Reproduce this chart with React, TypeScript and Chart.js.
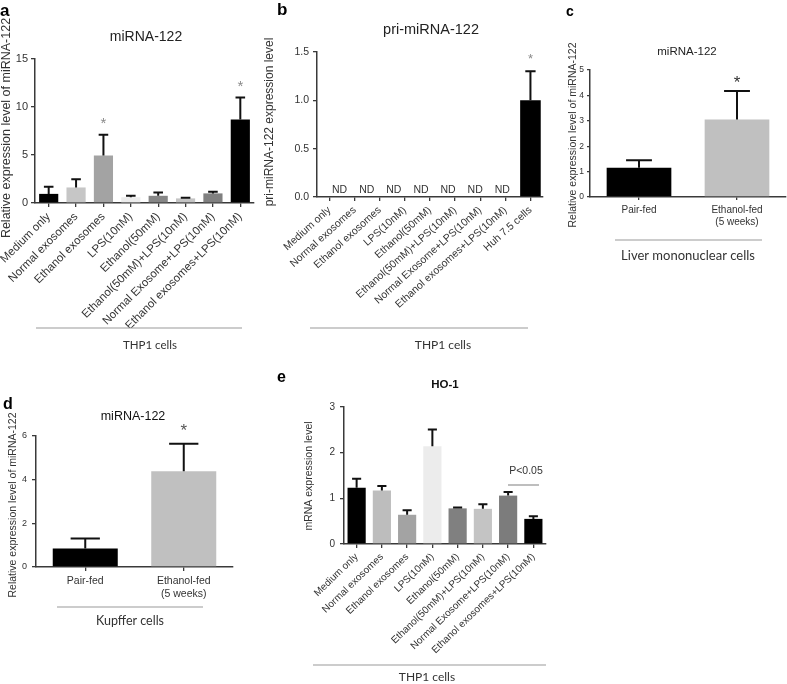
import React, { useEffect, useRef } from "react";
import { Chart, registerables } from "chart.js";
Chart.register(...registerables);

const W = 787;
const H = 684;
const SANS = "'Liberation Sans', Arial, sans-serif";
const SOFT = "Lato, 'Open Sans', sans-serif";
const AXIS = "#3a3a3a";
const TXT = "#333333";

// ---------- Panel a : miRNA-122, THP1 cells ----------
const catsA = [
  "Medium only",
  "Normal exosomes",
  "Ethanol exosomes",
  "LPS(10nM)",
  "Ethanol(50mM)",
  "Ethanol(50mM)+LPS(10nM)",
  "Normal Exosome+LPS(10nM)",
  "Ethanol exosomes+LPS(10nM)",
];
const valsA = [0.95, 1.62, 4.95, 0.6, 0.75, 0.48, 1.0, 8.7];
const errA = [0.75, 0.85, 2.15, 0.16, 0.35, 0.07, 0.18, 2.3];
const colorsA = ["#000000", "#c6c6c6", "#a3a3a3", "#ececec", "#868686", "#c4c4c4", "#808080", "#000000"];
const starsA = [2, 7];
const yTicksA = [0, 5, 10, 15];

// ---------- Panel b : pri-miRNA-122 ----------
const catsB = [...catsA, "Huh 7.5 cells"];
const valsB = [0, 0, 0, 0, 0, 0, 0, 0, 1.0];
const errB = [null, null, null, null, null, null, null, null, 0.3];
const colorsB = ["#000000", "#000000", "#000000", "#000000", "#000000", "#000000", "#000000", "#000000", "#000000"];
const ndLabelsB = ["ND", "ND", "ND", "ND", "ND", "ND", "ND"];
const starsB = [8];
const yTicksB = [0, 0.5, 1.0, 1.5];

// ---------- Panel c : Liver mononuclear cells ----------
const catsC = ["Pair-fed", ["Ethanol-fed", "(5 weeks)"]];
const valsC = [1.15, 3.05];
const errC = [0.3, 1.12];
const colorsC = ["#000000", "#c0c0c0"];
const starsC = [1];
const yTicksC = [0, 1, 2, 3, 4, 5];

// ---------- Panel d : Kupffer cells ----------
const catsD = ["Pair-fed", ["Ethanol-fed", "(5 weeks)"]];
const valsD = [0.85, 4.38];
const errD = [0.45, 1.26];
const colorsD = ["#000000", "#c0c0c0"];
const starsD = [1];
const yTicksD = [0, 2, 4, 6];

// ---------- Panel e : HO-1 ----------
const catsE = [...catsA];
const valsE = [1.23, 1.17, 0.64, 2.14, 0.78, 0.77, 1.06, 0.55];
const errE = [0.2, 0.1, 0.1, 0.37, 0.02, 0.1, 0.08, 0.06];
const colorsE = ["#000000", "#bdbdbd", "#a3a3a3", "#ececec", "#808080", "#c4c4c4", "#7c7c7c", "#000000"];
const yTicksE = [0, 1, 2, 3];

type Txt = { t: string; x: number; y: number; font: string; color?: string; rot?: boolean; align?: CanvasTextAlign };
type Ln = { x1: number; y1: number; x2: number; y2: number; color?: string; w?: number };

const errorBarPlugin = {
  id: "errorBars",
  afterDatasetsDraw(chart: any, _args: any, opts: any) {
    const errs = opts.errors || [];
    const ctx = chart.ctx;
    const ys = chart.scales.y;
    const meta = chart.getDatasetMeta(0);
    const data = chart.data.datasets[0].data;
    ctx.save();
    meta.data.forEach((bar: any, i: number) => {
      const e = errs[i];
      if (e == null) return;
      const top = ys.getPixelForValue(data[i] + e);
      const cap = bar.width * (opts.cap ?? 0.45);
      ctx.strokeStyle = opts.color || "#111";
      ctx.lineWidth = opts.width || 2;
      ctx.beginPath();
      ctx.moveTo(bar.x, bar.y);
      ctx.lineTo(bar.x, top);
      ctx.moveTo(bar.x - cap / 2, top);
      ctx.lineTo(bar.x + cap / 2, top);
      ctx.stroke();
      if ((opts.stars || []).includes(i)) {
        ctx.fillStyle = opts.starColor || "#888";
        ctx.font = opts.starFont;
        ctx.textAlign = "center";
        ctx.textBaseline = "middle";
        ctx.fillText("*", bar.x, top - opts.starGap);
      }
    });
    ctx.restore();
  },
};

const overlayPlugin = {
  id: "overlay",
  afterDraw(chart: any, _args: any, opts: any) {
    const ctx = chart.ctx;
    ctx.save();
    (opts.lines || []).forEach((l: Ln) => {
      ctx.strokeStyle = l.color || "#9a9a9a";
      ctx.lineWidth = l.w || 1.2;
      ctx.beginPath();
      ctx.moveTo(l.x1, l.y1);
      ctx.lineTo(l.x2, l.y2);
      ctx.stroke();
    });
    (opts.texts || []).forEach((t: Txt) => {
      ctx.fillStyle = t.color || TXT;
      ctx.font = t.font;
      ctx.textAlign = t.align || "center";
      ctx.textBaseline = "middle";
      if (t.rot) {
        ctx.save();
        ctx.translate(t.x, t.y);
        ctx.rotate(-Math.PI / 2);
        ctx.fillText(t.t, 0, 0);
        ctx.restore();
      } else {
        ctx.fillText(t.t, t.x, t.y);
      }
    });
    if (opts.nd) {
      const xs = chart.scales.x;
      const ys = chart.scales.y;
      const p0 = xs.getPixelForValue(0);
      const step = xs.getPixelForValue(1) - p0;
      const base = ys.getPixelForValue(0);
      ctx.fillStyle = TXT;
      ctx.font = opts.nd.font;
      ctx.textAlign = "center";
      ctx.textBaseline = "middle";
      opts.nd.labels.forEach((s: string, i: number) => {
        ctx.fillText(s, p0 + step * (opts.nd.start + i * opts.nd.spacing), base - opts.nd.gap);
      });
    }
    ctx.restore();
  },
};

type Spec = {
  area: { left: number; top: number; right: number; bottom: number };
  yW: number;
  xH: number;
  cats: any[];
  vals: number[];
  errs: (number | null)[];
  colors: string[];
  barFrac: number;
  yTicks: number[];
  decimals: number;
  yFont: number;
  xFont: number;
  rot: number;
  tickLen: number;
  yPad: number;
  xPad: number;
  cap: number;
  errW: number;
  stars: number[];
  starFont: string;
  starColor: string;
  starGap: number;
  texts: Txt[];
  lines: Ln[];
  nd?: any;
};

const specs: Spec[] = [
  {
    area: { left: 35, top: 59, right: 254, bottom: 203 },
    yW: 30, xH: 125,
    cats: catsA, vals: valsA, errs: errA, colors: colorsA, barFrac: 0.7,
    yTicks: yTicksA, decimals: 0, yFont: 11, xFont: 11.5, rot: 45, tickLen: 4, yPad: 3, xPad: 3,
    cap: 0.5, errW: 2, stars: starsA, starFont: `15px ${SANS}`, starColor: "#8a8a8a", starGap: 11,
    texts: [
      { t: "a", x: 0, y: 11, font: `bold 17px ${SANS}`, color: "#000", align: "left" },
      { t: "miRNA-122", x: 146, y: 37, font: `14px ${SANS}`, color: "#222" },
      { t: "Relative expression level of miRNA-122", x: 7, y: 128, font: `12.5px ${SANS}`, rot: true },
      { t: "THP1 cells", x: 150, y: 345, font: `11.5px ${SOFT}` },
    ],
    lines: [{ x1: 36, y1: 328, x2: 242, y2: 328 }],
  },
  {
    area: { left: 317, top: 52, right: 543, bottom: 197 },
    yW: 40, xH: 130,
    cats: catsB, vals: valsB, errs: errB, colors: colorsB, barFrac: 0.82,
    yTicks: yTicksB, decimals: 1, yFont: 10.5, xFont: 10.5, rot: 42, tickLen: 4, yPad: 4, xPad: 3,
    cap: 0.5, errW: 2, stars: starsB, starFont: `13px ${SANS}`, starColor: "#8a8a8a", starGap: 12,
    texts: [
      { t: "b", x: 277, y: 10, font: `bold 17px ${SANS}`, color: "#000", align: "left" },
      { t: "pri-miRNA-122", x: 431, y: 30, font: `14.5px ${SANS}`, color: "#222" },
      { t: "pri-miRNA-122 expression level", x: 270, y: 122, font: `12px ${SANS}`, rot: true },
      { t: "THP1 cells", x: 443, y: 345, font: `12px ${SOFT}` },
    ],
    lines: [{ x1: 310, y1: 328, x2: 528, y2: 328 }],
    nd: { labels: ndLabelsB, start: 0.4, spacing: 1.08, gap: 7, font: `10.5px ${SANS}` },
  },
  {
    area: { left: 590, top: 70, right: 786, bottom: 197 },
    yW: 20, xH: 40,
    cats: catsC, vals: valsC, errs: errC, colors: colorsC, barFrac: 0.66,
    yTicks: yTicksC, decimals: 0, yFont: 8.5, xFont: 10, rot: 0, tickLen: 3, yPad: 3, xPad: 4,
    cap: 0.4, errW: 2, stars: starsC, starFont: `17px ${SANS}`, starColor: "#333", starGap: 8,
    texts: [
      { t: "c", x: 566, y: 12, font: `bold 14px ${SANS}`, color: "#000", align: "left" },
      { t: "miRNA-122", x: 687, y: 52, font: `11.5px ${SANS}`, color: "#222" },
      { t: "Relative expression level of miRNA-122", x: 573, y: 135, font: `10.5px ${SANS}`, rot: true },
      { t: "Liver mononuclear cells", x: 688, y: 256, font: `13px ${SOFT}` },
    ],
    lines: [{ x1: 615, y1: 240, x2: 762, y2: 240 }],
  },
  {
    area: { left: 36, top: 436, right: 233, bottom: 567 },
    yW: 20, xH: 40,
    cats: catsD, vals: valsD, errs: errD, colors: colorsD, barFrac: 0.66,
    yTicks: yTicksD, decimals: 0, yFont: 9, xFont: 10.5, rot: 0, tickLen: 4, yPad: 5, xPad: 4,
    cap: 0.45, errW: 2, stars: starsD, starFont: `17px ${SANS}`, starColor: "#555", starGap: 13,
    texts: [
      { t: "d", x: 3, y: 405, font: `bold 16px ${SANS}`, color: "#000", align: "left" },
      { t: "miRNA-122", x: 133, y: 417, font: `12.5px ${SANS}`, color: "#111" },
      { t: "Relative expression level of miRNA-122", x: 13, y: 505, font: `10.5px ${SANS}`, rot: true },
      { t: "Kupffer cells", x: 130, y: 621, font: `12.5px ${SOFT}` },
    ],
    lines: [{ x1: 57, y1: 607, x2: 203, y2: 607 }],
  },
  {
    area: { left: 344, top: 407, right: 546, bottom: 544 },
    yW: 30, xH: 140,
    cats: catsE, vals: valsE, errs: errE, colors: colorsE, barFrac: 0.72,
    yTicks: yTicksE, decimals: 0, yFont: 10, xFont: 10, rot: 44, tickLen: 4, yPad: 5, xPad: 3,
    cap: 0.5, errW: 2, stars: [], starFont: `12px ${SANS}`, starColor: "#888", starGap: 10,
    texts: [
      { t: "e", x: 277, y: 378, font: `bold 16px ${SANS}`, color: "#000", align: "left" },
      { t: "HO-1", x: 445, y: 385, font: `bold 11.5px ${SANS}`, color: "#111" },
      { t: "mRNA expression level", x: 309, y: 476, font: `10.5px ${SANS}`, rot: true },
      { t: "P<0.05", x: 526, y: 471, font: `10.5px ${SANS}` },
      { t: "THP1 cells", x: 427, y: 677, font: `12px ${SOFT}` },
    ],
    lines: [
      { x1: 508, y1: 485, x2: 539, y2: 485, color: "#a8a8a8", w: 1.5 },
      { x1: 313, y1: 665, x2: 546, y2: 665 },
    ],
  },
];

function buildConfig(s: Spec): any {
  return {
    type: "bar",
    data: {
      labels: s.cats,
      datasets: [
        {
          data: s.vals,
          backgroundColor: s.colors,
          borderWidth: 0,
          barPercentage: 1,
          categoryPercentage: s.barFrac,
        },
      ],
    },
    options: {
      responsive: false,
      animation: false,
      devicePixelRatio: 1,
      layout: {
        padding: {
          left: s.area.left - s.yW,
          top: s.area.top,
          right: W - s.area.right,
          bottom: H - s.area.bottom - s.xH,
        },
      },
      plugins: {
        legend: { display: false },
        tooltip: { enabled: false },
        title: { display: false },
        errorBars: {
          errors: s.errs, cap: s.cap, width: s.errW, color: "#111",
          stars: s.stars, starFont: s.starFont, starColor: s.starColor, starGap: s.starGap,
        },
        overlay: { texts: s.texts, lines: s.lines, nd: s.nd },
      },
      scales: {
        x: {
          type: "category",
          offset: true,
          grid: {
            display: true, offset: false, drawOnChartArea: false, drawTicks: true,
            tickLength: s.tickLen, color: AXIS, lineWidth: 1.3,
          },
          border: { display: true, color: AXIS, width: 1.5 },
          ticks: {
            autoSkip: false, maxRotation: s.rot, minRotation: s.rot,
            font: { family: SANS, size: s.xFont }, color: TXT, padding: s.xPad,
          },
          afterFit: (sc: any) => {
            sc.height = s.xH;
            sc.paddingLeft = 0;
            sc.paddingRight = 0;
          },
        },
        y: {
          type: "linear",
          min: 0,
          max: s.yTicks[s.yTicks.length - 1],
          afterBuildTicks: (sc: any) => {
            sc.ticks = s.yTicks.map((v) => ({ value: v }));
          },
          grid: {
            display: true, drawOnChartArea: false, drawTicks: true,
            tickLength: s.tickLen, color: AXIS, lineWidth: 1.3,
          },
          border: { display: true, color: AXIS, width: 1.5 },
          ticks: {
            font: { family: SANS, size: s.yFont }, color: TXT, padding: s.yPad,
            callback: (v: any) => Number(v).toFixed(s.decimals),
          },
          afterFit: (sc: any) => {
            sc.width = s.yW;
            sc.paddingTop = 0;
            sc.paddingBottom = 0;
          },
        },
      },
    },
    plugins: [errorBarPlugin, overlayPlugin],
  };
}

function Panel({ spec }: { spec: Spec }) {
  const ref = useRef<HTMLCanvasElement | null>(null);
  useEffect(() => {
    if (!ref.current) return;
    const chart = new Chart(ref.current, buildConfig(spec));
    return () => chart.destroy();
  }, [spec]);
  return (
    <canvas
      ref={ref}
      width={W}
      height={H}
      style={{ position: "absolute", left: 0, top: 0, width: W, height: H }}
    />
  );
}

export default function App() {
  return (
    <div style={{ position: "fixed", left: 0, top: 0, width: W, height: H, background: "#ffffff", overflow: "hidden" }}>
      {specs.map((s, i) => (
        <Panel key={i} spec={s} />
      ))}
    </div>
  );
}
